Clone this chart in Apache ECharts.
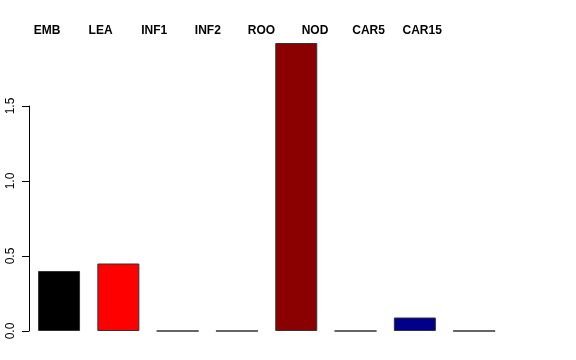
<!DOCTYPE html>
<html><head><meta charset="utf-8">
<script src="https://cdn.jsdelivr.net/npm/echarts@6/dist/echarts.min.js"></script>
<style>html,body{margin:0;padding:0;background:#fff}#c{width:576px;height:360px}</style>
</head><body><div id="c"></div>
<script>
var categories = ['EMB','LEA','INF1','INF2','ROO','NOD','CAR5','CAR15'];
var values = [0.40, 0.45, 0, 0, 1.92, 0, 0.09, 0];
var colors = ['#000000','#FF0000','#BEBEBE','#BEBEBE','#8B0000','#BEBEBE','#00008B','#BEBEBE'];
var yTicks = [0, 0.5, 1.0, 1.5];

var chart = echarts.init(document.getElementById('c'), null, {renderer:'canvas'});
chart.setOption({
  animation:false,
  grid:[
    {left:29.4, right:72.2, top:31, bottom:29},
    {left:29, width:1, top:106, bottom:29},
    {left:20.2, width:428.8, top:40, bottom:29}
  ],
  xAxis:[
    {gridIndex:0, type:'category', data:categories, show:false},
    {gridIndex:1, type:'value', show:false},
    {gridIndex:2, type:'category', data:categories, position:'top',
     axisLine:{show:false}, axisTick:{show:false},
     axisLabel:{fontFamily:'Liberation Sans, Arial, sans-serif', fontWeight:'bold', fontSize:12, color:'#000', margin:3, interval:0}}
  ],
  yAxis:[
    {gridIndex:0, type:'value', min:0, max:2, show:false},
    {gridIndex:1, type:'value', min:yTicks[0], max:yTicks[yTicks.length-1], interval:0.5,
     axisLine:{show:true, lineStyle:{color:'#000', width:1}},
     axisTick:{show:true, length:7, inside:false, lineStyle:{color:'#000'}},
     splitLine:{show:false},
     axisLabel:{rotate:90, fontFamily:'Liberation Sans, Arial, sans-serif', fontSize:12, color:'#000', margin:12,
       formatter:function(v){return v.toFixed(1);}}},
    {gridIndex:2, type:'value', show:false}
  ],
  series:[{
    type:'bar', xAxisIndex:0, yAxisIndex:0,
    barWidth:42,
    data: values.map(function(v,i){return {value:v, itemStyle:{color:colors[i], borderColor:'#333', borderWidth:1}};})
  }]
});
</script></body></html>
